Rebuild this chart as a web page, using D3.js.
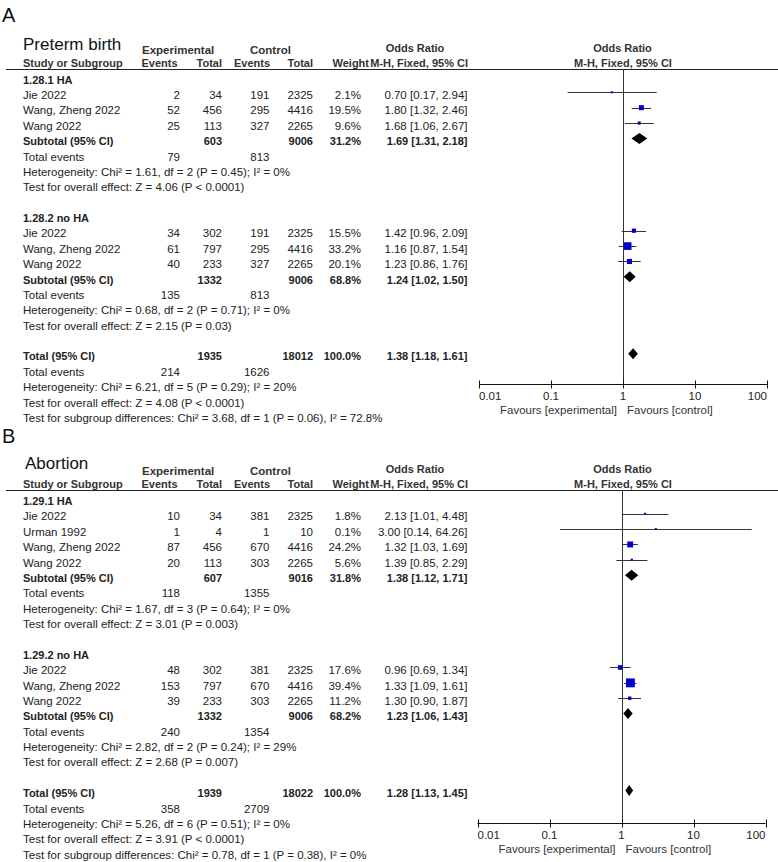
<!DOCTYPE html>
<html><head><meta charset="utf-8">
<script src="https://cdn.jsdelivr.net/npm/d3@7"></script>
<style>
body{margin:0;background:#fff}
text{font-family:"Liberation Sans",Arial,Helvetica,sans-serif;fill:#222}
</style>
</head><body>
<svg id="c" width="778" height="862"></svg>
<script>
// ---------------- DATA ----------------
const panelLetters = ["A", "B"];
const outcomeTitles = ["Preterm birth", "Abortion"];
const subgroupLabels = [["1.28.1 HA", "1.28.2 no HA"], ["1.29.1 HA", "1.29.2 no HA"]];
const axisTicks = [0.01, 0.1, 1, 10, 100];
const axisTickLabels = ["0.01", "0.1", "1", "10", "100"];
const favoursLabels = ["Favours [experimental]", "Favours [control]"];

// panel A studies: group, name, exp events, exp total, ctrl events, ctrl total, weight %, OR, lower, upper
const studiesA = [
  [0, "Jie 2022", 2, 34, 191, 2325, 2.1, 0.70, 0.17, 2.94],
  [0, "Wang, Zheng 2022", 52, 456, 295, 4416, 19.5, 1.80, 1.32, 2.46],
  [0, "Wang 2022", 25, 113, 327, 2265, 9.6, 1.68, 1.06, 2.67],
  [1, "Jie 2022", 34, 302, 191, 2325, 15.5, 1.42, 0.96, 2.09],
  [1, "Wang, Zheng 2022", 61, 797, 295, 4416, 33.2, 1.16, 0.87, 1.54],
  [1, "Wang 2022", 40, 233, 327, 2265, 20.1, 1.23, 0.86, 1.76]
];
// subtotals: exp total, ctrl total, weight, OR, lower, upper, exp events, ctrl events
const subtotalsA = [
  [603, 9006, 31.2, 1.69, 1.31, 2.18, 79, 813],
  [1332, 9006, 68.8, 1.24, 1.02, 1.50, 135, 813]
];
const subHetA = ["Heterogeneity: Chi² = 1.61, df = 2 (P = 0.45); I² = 0%",
                 "Heterogeneity: Chi² = 0.68, df = 2 (P = 0.71); I² = 0%"];
const subZA = ["Test for overall effect: Z = 4.06 (P < 0.0001)",
               "Test for overall effect: Z = 2.15 (P = 0.03)"];
const totalA = [1935, 18012, 100.0, 1.38, 1.18, 1.61, 214, 1626];
const totalTextA = ["Heterogeneity: Chi² = 6.21, df = 5 (P = 0.29); I² = 20%",
                    "Test for overall effect: Z = 4.08 (P < 0.0001)",
                    "Test for subgroup differences: Chi² = 3.68, df = 1 (P = 0.06), I² = 72.8%"];

const studiesB = [
  [0, "Jie 2022", 10, 34, 381, 2325, 1.8, 2.13, 1.01, 4.48],
  [0, "Urman 1992", 1, 4, 1, 10, 0.1, 3.00, 0.14, 64.26],
  [0, "Wang, Zheng 2022", 87, 456, 670, 4416, 24.2, 1.32, 1.03, 1.69],
  [0, "Wang 2022", 20, 113, 303, 2265, 5.6, 1.39, 0.85, 2.29],
  [1, "Jie 2022", 48, 302, 381, 2325, 17.6, 0.96, 0.69, 1.34],
  [1, "Wang, Zheng 2022", 153, 797, 670, 4416, 39.4, 1.33, 1.09, 1.61],
  [1, "Wang 2022", 39, 233, 303, 2265, 11.2, 1.30, 0.90, 1.87]
];
const subtotalsB = [
  [607, 9016, 31.8, 1.38, 1.12, 1.71, 118, 1355],
  [1332, 9006, 68.2, 1.23, 1.06, 1.43, 240, 1354]
];
const subHetB = ["Heterogeneity: Chi² = 1.67, df = 3 (P = 0.64); I² = 0%",
                 "Heterogeneity: Chi² = 2.82, df = 2 (P = 0.24); I² = 29%"];
const subZB = ["Test for overall effect: Z = 3.01 (P = 0.003)",
               "Test for overall effect: Z = 2.68 (P = 0.007)"];
const totalB = [1939, 18022, 100.0, 1.28, 1.13, 1.45, 358, 2709];
const totalTextB = ["Heterogeneity: Chi² = 5.26, df = 6 (P = 0.51); I² = 0%",
                    "Test for overall effect: Z = 3.91 (P < 0.0001)",
                    "Test for subgroup differences: Chi² = 0.78, df = 1 (P = 0.38), I² = 0%"];

// ---------------- DRAW ----------------
const svg = d3.select("#c");
const FS = 11.5;
const FSB = 11;
const STEP = 15.38;
const COL = {name: 23, ee: 180, et: 222, ce: 269.5, ct: 313, w: 361, or: 467.5};

const panels = [
  {studies: studiesA, subs: subtotalsA, het: subHetA, z: subZA, total: totalA, totalText: totalTextA,
   off: 0, row0: 83.6, axisY: 384.5, range: [479, 767]},
  {studies: studiesB, subs: subtotalsB, het: subHetB, z: subZB, total: totalB, totalText: totalTextB,
   off: 421, row0: 505, axisY: 823.5, range: [477.5, 765.5]}
];

const fmt2 = d3.format(".2f");
const sqSize = d3.scaleLinear().domain([0, 40]).range([1.2, 9]);

function txt(g, x, y, s, opt = {}) {
  return g.append("text").attr("x", x).attr("y", y).text(s)
    .attr("font-size", opt.size || (opt.bold ? FSB : FS))
    .attr("font-weight", opt.bold ? "bold" : null)
    .attr("text-anchor", opt.anchor || "start")
    .style("fill", opt.fill || null);
}

panels.forEach((P, pi) => {
  const g = svg.append("g");
  const o = P.off;
  const x = d3.scaleLog().domain([0.01, 100]).range(P.range);
  const lineY = Math.round(69 + o) + 0.5;

  // Titles
  txt(g, 2, 22 + o, panelLetters[pi], {size: 20, fill: "#111"});
  txt(g, pi === 0 ? 23 : 25, 50 + o - (pi === 1 ? 2 : 0), outcomeTitles[pi], {size: 17, fill: "#111"});

  // Column headers
  const hb = {bold: true, fill: "#333"};
  txt(g, 142, 53.5 + o, "Experimental", {...hb, size: 11.5});
  txt(g, 250, 53.5 + o, "Control", {...hb, size: 11.5});
  txt(g, 415, 52 + o, "Odds Ratio", {...hb, anchor: "middle"});
  txt(g, 622.5, 52 + o, "Odds Ratio", {...hb, anchor: "middle"});
  const h2 = 67 + o;
  txt(g, 23, h2, "Study or Subgroup", hb);
  txt(g, 177.5, h2, "Events", {...hb, anchor: "end"});
  txt(g, 222, h2, "Total", {...hb, anchor: "end"});
  txt(g, 270, h2, "Events", {...hb, anchor: "end"});
  txt(g, 313, h2, "Total", {...hb, anchor: "end"});
  txt(g, 369, h2, "Weight", {...hb, anchor: "end"});
  txt(g, 468, h2, "M-H, Fixed, 95% CI", {...hb, anchor: "end"});
  txt(g, 623, h2, "M-H, Fixed, 95% CI", {...hb, anchor: "middle"});

  g.append("line").attr("x1", 6).attr("x2", 778).attr("y1", lineY).attr("y2", lineY)
    .attr("stroke", "#222").attr("stroke-width", 1);

  // null line
  const x1 = Math.round(x(1)) + 0.5;
  g.append("line").attr("x1", x1).attr("x2", x1).attr("y1", lineY).attr("y2", P.axisY)
    .attr("stroke", "#333").attr("stroke-width", 1);

  const rowY = i => P.row0 + i * STEP;
  const markY = i => Math.round(rowY(i) - 6.7) + 0.5;

  function numRow(i, vals, bold) {
    const b = {bold: bold};
    if (vals.ee != null) txt(g, COL.ee, rowY(i), vals.ee, {...b, anchor: "end"});
    if (vals.et != null) txt(g, COL.et, rowY(i), vals.et, {...b, anchor: "end"});
    if (vals.ce != null) txt(g, COL.ce, rowY(i), vals.ce, {...b, anchor: "end"});
    if (vals.ct != null) txt(g, COL.ct, rowY(i), vals.ct, {...b, anchor: "end"});
    if (vals.w != null) txt(g, COL.w, rowY(i), vals.w, {...b, anchor: "end"});
    if (vals.or != null) txt(g, COL.or, rowY(i), vals.or, {...b, anchor: "end"});
  }
  function diamond(i, or, lo, hi) {
    const y = rowY(i) - 6.7;
    g.append("path")
      .attr("d", `M${x(lo)},${y}L${x(or)},${y - 5.5}L${x(hi)},${y}L${x(or)},${y + 5.5}Z`)
      .attr("fill", "#000");
  }

  let r = 0;
  [0, 1].forEach(gi => {
    txt(g, 23, rowY(r), subgroupLabels[pi][gi], {bold: true}); r++;
    P.studies.filter(s => s[0] === gi).forEach(s => {
      txt(g, COL.name, rowY(r), s[1]);
      numRow(r, {ee: s[2], et: s[3], ce: s[4], ct: s[5], w: s[6].toFixed(1) + "%",
        or: `${fmt2(s[7])} [${fmt2(s[8])}, ${fmt2(s[9])}]`});
      const y = markY(r);
      g.append("line").attr("x1", x(s[8])).attr("x2", x(s[9])).attr("y1", y).attr("y2", y)
        .attr("stroke", "#333").attr("stroke-width", 1);
      const sz = Math.max(2, sqSize(s[6]));
      g.append("rect").attr("x", x(s[7]) - sz / 2).attr("y", rowY(r) - 6.7 - sz / 2)
        .attr("width", sz).attr("height", sz).attr("fill", "#0000cc");
      r++;
    });
    const st = P.subs[gi];
    txt(g, COL.name, rowY(r), "Subtotal (95% CI)", {bold: true});
    numRow(r, {et: st[0], ct: st[1], w: st[2].toFixed(1) + "%",
      or: `${fmt2(st[3])} [${fmt2(st[4])}, ${fmt2(st[5])}]`}, true);
    diamond(r, st[3], st[4], st[5]);
    r++;
    txt(g, COL.name, rowY(r), "Total events");
    numRow(r, {ee: st[6], ce: st[7]}); r++;
    txt(g, COL.name, rowY(r), P.het[gi]); r++;
    txt(g, COL.name, rowY(r), P.z[gi]); r++;
    r++; // blank
  });
  const T = P.total;
  txt(g, COL.name, rowY(r), "Total (95% CI)", {bold: true});
  numRow(r, {et: T[0], ct: T[1], w: T[2].toFixed(1) + "%",
    or: `${fmt2(T[3])} [${fmt2(T[4])}, ${fmt2(T[5])}]`}, true);
  diamond(r, T[3], T[4], T[5]);
  r++;
  txt(g, COL.name, rowY(r), "Total events");
  numRow(r, {ee: T[6], ce: T[7]}); r++;
  P.totalText.forEach(t => { txt(g, COL.name, rowY(r), t); r++; });

  // axis
  const ay = P.axisY;
  g.append("line").attr("x1", x(0.01)).attr("x2", x(100)).attr("y1", ay).attr("y2", ay)
    .attr("stroke", "#111").attr("stroke-width", 1);
  axisTicks.forEach((t, k) => {
    const tx = Math.round(x(t)) + 0.5;
    g.append("line").attr("x1", tx).attr("x2", tx).attr("y1", ay - 4).attr("y2", ay + 4)
      .attr("stroke", "#111").attr("stroke-width", 1);
    txt(g, x(t), ay + 15.5, axisTickLabels[k],
      {anchor: k === 0 ? "start" : (k === axisTicks.length - 1 ? "end" : "middle")});
  });
  txt(g, x(1) - 6, ay + 29, favoursLabels[0], {anchor: "end", fill: "#333"});
  txt(g, x(1) + 4, ay + 29, favoursLabels[1], {anchor: "start", fill: "#333"});
});
</script>
</body></html>
